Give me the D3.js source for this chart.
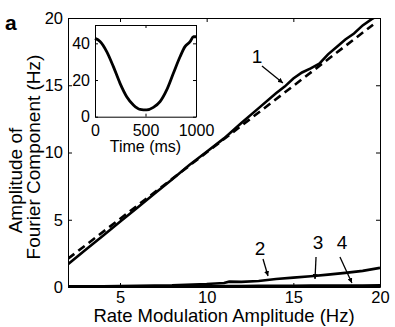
<!DOCTYPE html>
<html>
<head>
<meta charset="utf-8">
<script src="https://cdn.jsdelivr.net/npm/d3@7"></script>
<style>
  body { margin: 0; background: #fff; }
  text { font-family: "Liberation Sans", Arial, sans-serif; fill: #000; }
</style>
</head>
<body>
<div id="chart"></div>
<script>
// Data
const rateMod = [2, 3, 4, 5, 6, 7, 8, 9, 10, 11, 12, 13, 14, 14.5, 15, 15.5, 16, 16.5, 17, 17.5, 18, 18.5, 19, 19.5, 19.9];
const comp1 = [1.7, 2.75, 3.8, 4.86, 5.9, 6.95, 8.0, 9.07, 10.05, 11.05, 12.2, 13.3, 14.4, 14.9, 15.5, 15.95, 16.25, 16.6, 17.3, 17.85, 18.4, 18.85, 19.45, 19.9, 20.2];

const lowX = [2, 4, 6, 8, 10, 11, 11.3, 12, 13, 14, 15, 16, 17, 18, 19, 20];
const comp2 = [0.05, 0.05, 0.08, 0.12, 0.22, 0.3, 0.4, 0.38, 0.45, 0.6, 0.7, 0.8, 0.92, 1.05, 1.2, 1.42];
const comp3 = [0.02, 0.03, 0.04, 0.05, 0.06, 0.07, 0.07, 0.07, 0.08, 0.08, 0.09, 0.1, 0.1, 0.11, 0.11, 0.12];
const comp4 = [0.0, 0.01, 0.01, 0.02, 0.02, 0.02, 0.02, 0.03, 0.03, 0.03, 0.03, 0.04, 0.04, 0.04, 0.05, 0.05];

// dashed reference line
const refX = [2, 19.6];
const refY = [2.1, 19.5];

// inset: rate vs time
const timeMs = [0, 50, 116, 182, 248, 314, 380, 446, 512, 578, 644, 710, 776, 842, 891, 941, 974, 1000];
const rate = [42.7, 41, 35.5, 27.3, 18.2, 10.9, 6.4, 4.0, 3.7, 5.1, 8.2, 14.6, 23.7, 32.7, 38.2, 40.9, 43.6, 43.6];

const xTicks = [5, 10, 15, 20];
const yTicks = [0, 5, 10, 15, 20];
const insetXTicks = [0, 500, 1000];
const insetYTicks = [0, 20, 40];

const W = 395, H = 327;
const svg = d3.select("#chart").append("svg")
    .attr("width", W).attr("height", H);

// main scales
const x = d3.scaleLinear().domain([2, 20]).range([68, 380]);
const y = d3.scaleLinear().domain([0, 20]).range([287, 18]);

svg.append("clipPath").attr("id", "clip")
  .append("rect").attr("x", 68).attr("y", 18).attr("width", 312).attr("height", 269);

// axes (ticks inward, box all round)
const axB = svg.append("g").attr("transform", "translate(0,287)")
    .call(d3.axisBottom(x).tickValues(xTicks).tickSizeInner(-4).tickSizeOuter(0).tickPadding(4));
const axT = svg.append("g").attr("transform", "translate(0,18)")
    .call(d3.axisTop(x).tickValues(xTicks).tickSizeInner(-4).tickSizeOuter(0).tickFormat(""));
const axL = svg.append("g").attr("transform", "translate(68,0)")
    .call(d3.axisLeft(y).tickValues(yTicks).tickSizeInner(-4).tickSizeOuter(0).tickPadding(5));
const axR = svg.append("g").attr("transform", "translate(380,0)")
    .call(d3.axisRight(y).tickValues(yTicks).tickSizeInner(-4).tickSizeOuter(0).tickFormat(""));

[axB, axT, axL, axR].forEach(a => {
  a.selectAll("path, line").attr("stroke", "#000").attr("stroke-width", 1);
  a.selectAll("text").style("font-size", "16.5px").style("font-family", "Liberation Sans, Arial, sans-serif");
});

const line = d3.line().x(d => x(d[0])).y(d => y(d[1]));
const plot = svg.append("g").attr("clip-path", "url(#clip)");

plot.append("path")
  .datum(refX.map((v, i) => [v, refY[i]]))
  .attr("d", line).attr("fill", "none").attr("stroke", "#000")
  .attr("stroke-width", 2.6).attr("stroke-dasharray", "8,5");

plot.append("path")
  .datum(rateMod.map((v, i) => [v, comp1[i]]))
  .attr("d", line).attr("fill", "none").attr("stroke", "#000").attr("stroke-width", 2.6);

[comp2, comp3, comp4].forEach(s => {
  plot.append("path")
    .datum(lowX.map((v, i) => [v, s[i]]))
    .attr("d", line).attr("fill", "none").attr("stroke", "#000").attr("stroke-width", 2.6);
});

// annotations (data units)
const notes = [
  { label: "1", tx: 12.9, ty: 16.65, x1: 13.19, y1: 16.43, x2: 14.4, y2: 15.17 },
  { label: "2", tx: 13.08, ty: 2.38, x1: 13.25, y1: 2.08, x2: 13.54, y2: 0.82 },
  { label: "3", tx: 16.42, ty: 2.83, x1: 16.31, y1: 2.23, x2: 16.25, y2: 0.59 },
  { label: "4", tx: 17.81, ty: 2.83, x1: 17.69, y1: 2.23, x2: 18.38, y2: 0.30 }
];

svg.append("defs").append("marker")
  .attr("id", "arr").attr("viewBox", "0 0 10 10").attr("refX", 10).attr("refY", 5)
  .attr("markerWidth", 5).attr("markerHeight", 5).attr("orient", "auto")
  .attr("markerUnits", "userSpaceOnUse")
  .append("path").attr("d", "M0,0L10,5L0,10z").attr("fill", "#000");

notes.forEach(n => {
  svg.append("text").attr("x", x(n.tx)).attr("y", y(n.ty))
    .attr("text-anchor", "middle").style("font-size", "19px").text(n.label);
  svg.append("line")
    .attr("x1", x(n.x1)).attr("y1", y(n.y1)).attr("x2", x(n.x2)).attr("y2", y(n.y2))
    .attr("stroke", "#000").attr("stroke-width", 1.3).attr("marker-end", "url(#arr)");
});

// inset
const ix = d3.scaleLinear().domain([0, 1000]).range([95, 196]);
const iy = d3.scaleLinear().domain([0, 50]).range([116.7, 25]);

svg.append("rect").attr("x", 95).attr("y", 25).attr("width", 101).attr("height", 91.7)
  .attr("fill", "#fff");

const iB = svg.append("g").attr("transform", "translate(0,116.7)")
    .call(d3.axisBottom(ix).tickValues(insetXTicks).tickFormat(d3.format("d"))
      .tickSizeInner(-3).tickSizeOuter(0).tickPadding(8));
const iT = svg.append("g").attr("transform", "translate(0,25)")
    .call(d3.axisTop(ix).tickValues(insetXTicks).tickSizeInner(-3).tickSizeOuter(0).tickFormat(""));
const iL = svg.append("g").attr("transform", "translate(95,0)")
    .call(d3.axisLeft(iy).tickValues(insetYTicks).tickSizeInner(-3).tickSizeOuter(0).tickPadding(5));
const iR = svg.append("g").attr("transform", "translate(196,0)")
    .call(d3.axisRight(iy).tickValues(insetYTicks).tickSizeInner(-3).tickSizeOuter(0).tickFormat(""));

[iB, iT, iL, iR].forEach(a => {
  a.selectAll("path, line").attr("stroke", "#000").attr("stroke-width", 1);
  a.selectAll("text").style("font-size", "16px").style("font-family", "Liberation Sans, Arial, sans-serif");
});

const iline = d3.line().x(d => ix(d[0])).y(d => iy(d[1])).curve(d3.curveMonotoneX);
svg.append("path")
  .datum(timeMs.map((t, i) => [t, rate[i]]))
  .attr("d", iline).attr("fill", "none").attr("stroke", "#000").attr("stroke-width", 2.8);

svg.append("text").attr("x", 145.5).attr("y", 152)
  .attr("text-anchor", "middle").style("font-size", "16px").text("Time (ms)");

// labels
svg.append("text").attr("x", 224).attr("y", 322)
  .attr("text-anchor", "middle").style("font-size", "18.5px")
  .text("Rate Modulation Amplitude (Hz)");

svg.append("text").attr("transform", "translate(22,180.5) rotate(-90)")
  .attr("text-anchor", "middle").style("font-size", "19px").text("Amplitude of");
svg.append("text").attr("transform", "translate(40,157) rotate(-90)")
  .attr("text-anchor", "middle").style("font-size", "19px").text("Fourier Component (Hz)");

svg.append("text").attr("x", 5).attr("y", 30)
  .style("font-size", "21px").style("font-weight", "bold").text("a");
</script>
</body>
</html>
